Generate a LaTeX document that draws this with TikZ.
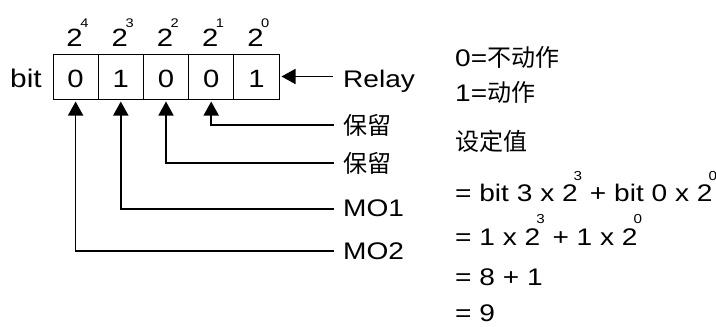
\documentclass[tikz,border=0pt]{standalone}
\usepackage{fontspec}
\setmainfont{Liberation Sans}[FakeStretch=1.17]
\newfontfamily\cjk{Noto Sans CJK SC}
\usetikzlibrary{arrows.meta}
\newcommand\supr[1]{\kern-4pt\raisebox{21.5pt}{\fontsize{13}{15}\selectfont #1}}
\begin{document}
\begin{tikzpicture}[x=1pt,y=-1pt,
  font=\fontsize{24}{28}\selectfont,
  txt/.style={inner sep=0pt, anchor=base west},
  cjklbl/.style={inner sep=0pt, anchor=west, font=\fontsize{24}{28}\selectfont\cjk},
  cell/.style={draw, line width=1pt, minimum width=45.2pt, minimum height=45pt, inner sep=0pt},
  digit/.style={inner sep=0pt, anchor=base, font=\fontsize{25}{28}\selectfont},
  pw/.style={inner sep=0pt, anchor=base, font=\fontsize{25}{28}\selectfont},
  ex/.style={inner sep=0pt, anchor=base, font=\fontsize{12.5}{14}\selectfont},
  conn/.style={line width=1.6pt, -{Triangle[length=14pt,width=15pt]}, shorten >=2pt}]
\useasboundingbox (0,0) rectangle (716,327);

% cells
\node[cell] (b4) at (75.6,76.5) {};
\node[cell] (b3) at (120.8,76.5) {};
\node[cell] (b2) at (166.0,76.5) {};
\node[cell] (b1) at (211.2,76.5) {};
\node[cell] (b0) at (256.4,76.5) {};
\node[digit] (d4) at (75.6,87.8) {0};
\node[digit] (d3) at (120.8,87.8) {1};
\node[digit] (d2) at (166.0,87.8) {0};
\node[digit] (d1) at (211.2,87.8) {0};
\node[digit] (d0) at (256.4,87.8) {1};

% powers
\node[pw] (p4) at (74.6,46.7) {2};
\node[pw] (p3) at (119.8,46.7) {2};
\node[pw] (p2) at (165.0,46.7) {2};
\node[pw] (p1) at (210.2,46.7) {2};
\node[pw] (p0) at (255.4,46.7) {2};
\node[ex] (e4) at (84.4,27) {4};
\node[ex] (e3) at (129.6,27) {3};
\node[ex] (e2) at (174.8,27) {2};
\node[ex] (e1) at (220.0,27) {1};
\node[ex] (e0) at (265.2,27) {0};

\node[txt, font=\fontsize{25.5}{28}\selectfont] (bit) at (10,87.3) {bit};

% labels
\node[txt] (relay) at (343,87.3) {Relay};
\node[cjklbl] (r1) at (343,125) {保留};
\node[cjklbl] (r2) at (343,163) {保留};
\node[txt] (mo1) at (343,216.5) {MO1};
\node[txt] (mo2) at (343,259.5) {MO2};

\coordinate (cr) at (333,76.5);
\coordinate (c1) at (334,125);
\coordinate (c2) at (334,163);
\coordinate (c3) at (334,209);
\coordinate (c4) at (334,251);

\draw[conn] (cr) -- (b0.east);
\draw[conn] (c1) -| (b1.south);
\draw[conn] (c2) -| (b2.south);
\draw[conn] (c3) -| (b3.south);
\draw[conn] (c4) -| (b4.south);

% right side
\node[txt] (t1) at (455,66) {0=\cjk 不动作};
\node[txt] (t2) at (455,101.7) {1=\cjk 动作};
\node[txt] (t3) at (455,150) {\cjk 设定值};
\node[txt] (t4) at (455,201.7) {= bit 3 x 2\supr{3} + bit 0 x 2\supr{0}};
\node[txt] (t5) at (455,245) {= 1 x 2\supr{3} + 1 x 2\supr{0}};
\node[txt] (t6) at (455,285) {= 8 + 1};
\node[txt] (t7) at (455,321.5) {= 9};
\end{tikzpicture}
\end{document}
